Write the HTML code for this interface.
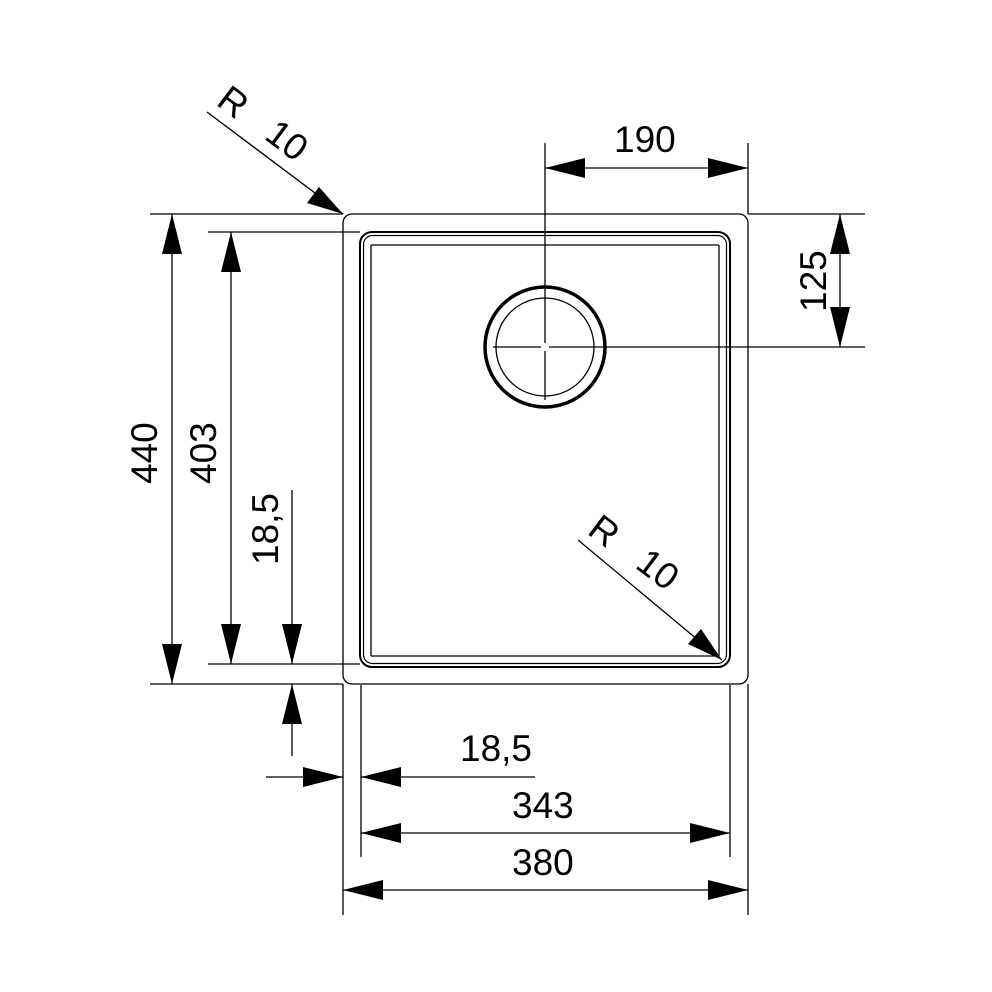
<!DOCTYPE html>
<html><head><style>body{margin:0;background:#fff}svg{display:block}text{font-family:"Liberation Sans",sans-serif;font-size:37px;fill:#000}</style></head><body>
<svg width="992" height="992" viewBox="0 0 992 992" xmlns="http://www.w3.org/2000/svg">
<g stroke="#000" fill="none" stroke-width="1.3">
<rect x="343" y="214" width="405" height="470" rx="9"/>
<rect x="360" y="232" width="370" height="435" rx="12" stroke-width="2"/>
<rect x="363.5" y="235.5" width="363" height="428" rx="9" stroke-width="1.2"/>
<line x1="371" y1="245" x2="371" y2="656"/>
<line x1="719" y1="245" x2="719" y2="656"/>
<line x1="371" y1="245" x2="719" y2="245"/>
<line x1="371" y1="656" x2="719" y2="656"/>
<circle cx="545" cy="347" r="60" stroke-width="3.5"/>
<circle cx="545" cy="347" r="49"/>
<line x1="545" y1="143" x2="545" y2="343"/>
<line x1="545" y1="351" x2="545" y2="400"/>
<line x1="493" y1="347" x2="541" y2="347"/>
<line x1="549" y1="347" x2="865" y2="347"/>
<line x1="150" y1="214" x2="343" y2="214"/>
<line x1="208" y1="232" x2="360" y2="232"/>
<line x1="208" y1="664" x2="360" y2="664"/>
<line x1="150" y1="684" x2="343" y2="684"/>
<line x1="748" y1="214" x2="865" y2="214"/>
<line x1="748" y1="143" x2="748" y2="214"/>
<line x1="343" y1="684" x2="343" y2="915"/>
<line x1="748" y1="684" x2="748" y2="915"/>
<line x1="361" y1="685" x2="361" y2="857"/>
<line x1="730" y1="685" x2="730" y2="857"/>
<line x1="172" y1="214" x2="172" y2="684"/>
<line x1="231" y1="232" x2="231" y2="664"/>
<line x1="292" y1="490" x2="292" y2="664"/>
<line x1="292" y1="684" x2="292" y2="756"/>
<line x1="266" y1="777" x2="343" y2="777"/>
<line x1="361" y1="777" x2="535" y2="777"/>
<line x1="361" y1="833" x2="730" y2="833"/>
<line x1="343" y1="890" x2="748" y2="890"/>
<line x1="545" y1="168" x2="748" y2="168"/>
<line x1="840" y1="214" x2="840" y2="347"/>
<line x1="207" y1="112" x2="343" y2="214"/>
<line x1="578" y1="540" x2="722" y2="660"/>
</g>
<g fill="#000">
<polygon points="172,214 162,254 182,254"/><polygon points="172,684 162,644 182,644"/>
<polygon points="231,232 221,272 241,272"/><polygon points="231,664 221,624 241,624"/>
<polygon points="292,664 282,624 302,624"/><polygon points="292,684 282,724 302,724"/>
<polygon points="343,777 303,767 303,787"/><polygon points="361,777 401,767 401,787"/>
<polygon points="361,833 401,823 401,843"/><polygon points="730,833 690,823 690,843"/>
<polygon points="343,890 383,880 383,900"/><polygon points="748,890 708,880 708,900"/>
<polygon points="545,168 585,158 585,178"/><polygon points="748,168 708,158 708,178"/>
<polygon points="840,214 830,254 850,254"/><polygon points="840,347 830,307 850,307"/>
<polygon points="343,214 307,203 319,187"/>
<polygon points="722,660 688,644 701,629"/>
</g>
<text x="614" y="152">190</text>
<text x="460" y="761">18,5</text>
<text x="512" y="818">343</text>
<text x="512" y="875">380</text>
<text transform="translate(157,484) rotate(-90)">440</text>
<text transform="translate(216,484) rotate(-90)">403</text>
<text transform="translate(278,565) rotate(-90)">18,5</text>
<text transform="translate(826,312) rotate(-90)">125</text>
<text transform="translate(215,104) rotate(37)">R</text>
<text transform="translate(263,138) rotate(37)">10</text>
<text transform="translate(586,533) rotate(37)">R</text>
<text transform="translate(634,567) rotate(37)">10</text>
</svg></body></html>
